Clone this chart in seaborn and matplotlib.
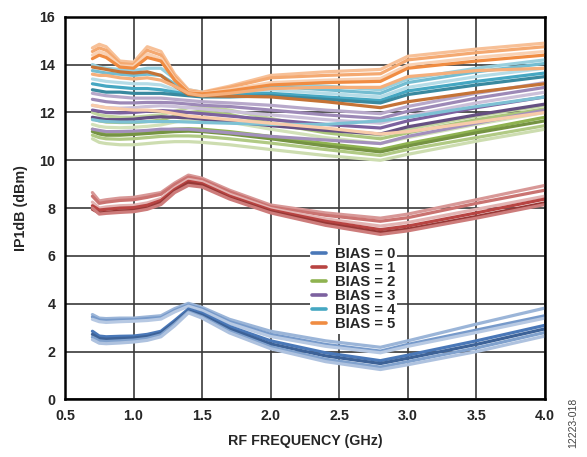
import matplotlib
matplotlib.use("Agg")
import matplotlib.pyplot as plt
from matplotlib.lines import Line2D
from matplotlib.colors import to_rgb
import seaborn as sns
import pandas as pd

# frequency points (GHz) shared by every sweep
FREQ_GHZ = [0.70, 0.75, 0.80, 0.90, 1.00, 1.10, 1.20, 1.30, 1.40, 1.50,
            1.70, 2.00, 2.40, 2.80, 3.00, 3.50, 4.00]

# IP1dB (dBm) sweeps, one list per trace
BIAS0 = [
    [3.55, 3.40, 3.38, 3.40, 3.40, 3.45, 3.50, 3.80, 4.02, 3.85, 3.35, 2.85, 2.45, 2.18, 2.45, 3.15, 3.82],
    [3.45, 3.32, 3.30, 3.32, 3.33, 3.38, 3.42, 3.72, 3.95, 3.78, 3.25, 2.72, 2.30, 2.02, 2.30, 2.90, 3.50],
    [3.35, 3.25, 3.22, 3.25, 3.27, 3.30, 3.36, 3.66, 3.90, 3.72, 3.18, 2.63, 2.22, 1.95, 2.22, 2.80, 3.40],
    [2.85, 2.65, 2.62, 2.64, 2.65, 2.72, 2.85, 3.30, 3.78, 3.60, 3.05, 2.45, 1.95, 1.62, 1.85, 2.45, 3.10],
    [2.72, 2.55, 2.52, 2.55, 2.57, 2.63, 2.78, 3.22, 3.70, 3.52, 2.95, 2.32, 1.82, 1.50, 1.72, 2.30, 2.95],
    [2.60, 2.45, 2.42, 2.45, 2.48, 2.55, 2.70, 3.15, 3.66, 3.45, 2.85, 2.20, 1.68, 1.35, 1.58, 2.15, 2.80],
    [2.50, 2.35, 2.33, 2.36, 2.40, 2.47, 2.62, 3.08, 3.62, 3.40, 2.78, 2.12, 1.58, 1.25, 1.45, 2.00, 2.65],
]
BIAS1 = [
    [8.65, 8.30, 8.35, 8.42, 8.45, 8.55, 8.65, 9.05, 9.38, 9.25, 8.75, 8.13, 7.80, 7.58, 7.75, 8.35, 8.95],
    [8.50, 8.20, 8.25, 8.32, 8.35, 8.45, 8.58, 8.98, 9.30, 9.18, 8.68, 8.05, 7.70, 7.45, 7.60, 8.20, 8.75],
    [8.25, 8.00, 8.05, 8.10, 8.12, 8.22, 8.40, 8.85, 9.20, 9.10, 8.58, 7.98, 7.55, 7.25, 7.40, 7.95, 8.50],
    [8.10, 7.92, 7.95, 8.00, 8.02, 8.12, 8.32, 8.78, 9.12, 9.02, 8.50, 7.92, 7.45, 7.10, 7.25, 7.80, 8.38],
    [7.95, 7.80, 7.82, 7.88, 7.90, 8.00, 8.22, 8.70, 9.05, 8.95, 8.42, 7.85, 7.35, 6.98, 7.12, 7.65, 8.22],
    [8.00, 7.75, 7.78, 7.82, 7.85, 7.95, 8.15, 8.65, 8.95, 8.88, 8.38, 7.80, 7.28, 6.90, 7.05, 7.58, 8.15],
]
BIAS2 = [
    [12.00, 11.90, 11.85, 11.80, 11.80, 11.85, 11.90, 12.05, 12.20, 12.25, 12.10, 11.75, 11.30, 11.05, 11.30, 11.85, 12.30],
    [11.75, 11.65, 11.60, 11.58, 11.58, 11.62, 11.68, 11.85, 12.00, 12.05, 11.92, 11.55, 11.15, 10.90, 11.15, 11.70, 12.15],
    [11.50, 11.42, 11.38, 11.36, 11.38, 11.42, 11.48, 11.60, 11.70, 11.72, 11.60, 11.30, 10.95, 10.70, 10.95, 11.50, 12.00],
    [11.30, 11.20, 11.15, 11.15, 11.18, 11.22, 11.26, 11.30, 11.32, 11.30, 11.20, 11.00, 10.70, 10.45, 10.70, 11.25, 11.80],
    [11.20, 11.10, 11.05, 11.05, 11.08, 11.12, 11.16, 11.20, 11.22, 11.20, 11.10, 10.90, 10.60, 10.35, 10.60, 11.15, 11.65],
    [11.05, 10.95, 10.90, 10.88, 10.90, 10.95, 11.00, 11.02, 11.02, 11.00, 10.90, 10.72, 10.45, 10.20, 10.45, 10.95, 11.45],
    [10.90, 10.75, 10.70, 10.65, 10.65, 10.70, 10.75, 10.78, 10.78, 10.75, 10.65, 10.45, 10.20, 10.00, 10.25, 10.80, 11.30],
]
BIAS3 = [
    [12.80, 12.75, 12.70, 12.65, 12.60, 12.60, 12.60, 12.55, 12.50, 12.45, 12.40, 12.30, 12.10, 11.95, 12.25, 12.80, 13.25],
    [12.55, 12.50, 12.45, 12.40, 12.40, 12.42, 12.42, 12.40, 12.35, 12.30, 12.25, 12.10, 11.90, 11.75, 12.05, 12.60, 13.05],
    [12.30, 12.25, 12.20, 12.18, 12.20, 12.25, 12.28, 12.25, 12.20, 12.15, 12.05, 11.90, 11.70, 11.55, 11.85, 12.40, 12.85],
    [12.10, 12.05, 12.00, 11.98, 12.00, 12.05, 12.08, 12.05, 12.00, 11.95, 11.85, 11.70, 11.50, 11.35, 11.65, 12.20, 12.65],
    [11.80, 11.75, 11.70, 11.70, 11.72, 11.78, 11.82, 11.80, 11.78, 11.72, 11.62, 11.45, 11.25, 11.10, 11.40, 11.90, 12.35],
    [11.30, 11.25, 11.20, 11.20, 11.22, 11.25, 11.30, 11.30, 11.30, 11.25, 11.15, 11.00, 10.85, 10.70, 11.00, 11.55, 12.10],
]
BIAS4 = [
    [14.00, 13.90, 13.85, 13.80, 13.75, 13.85, 13.85, 13.40, 12.95, 12.85, 12.95, 13.20, 13.10, 12.95, 13.40, 13.85, 14.20],
    [13.75, 13.70, 13.65, 13.60, 13.55, 13.60, 13.55, 13.20, 12.88, 12.80, 12.90, 13.10, 12.95, 12.80, 13.25, 13.70, 14.05],
    [13.40, 13.35, 13.30, 13.25, 13.20, 13.20, 13.15, 12.95, 12.80, 12.75, 12.80, 12.95, 12.80, 12.65, 13.05, 13.50, 13.85],
    [13.20, 13.15, 13.10, 13.05, 13.00, 13.00, 12.95, 12.85, 12.75, 12.70, 12.75, 12.80, 12.65, 12.50, 12.90, 13.30, 13.65],
    [12.95, 12.90, 12.85, 12.85, 12.80, 12.80, 12.80, 12.75, 12.70, 12.65, 12.65, 12.70, 12.55, 12.40, 12.75, 13.15, 13.50],
    [11.70, 11.65, 11.62, 11.60, 11.60, 11.62, 11.62, 11.62, 11.60, 11.58, 11.55, 11.50, 11.50, 11.65, 11.80, 12.25, 12.65],
]
BIAS5 = [
    [14.70, 14.85, 14.75, 14.15, 14.10, 14.75, 14.55, 13.60, 12.95, 12.85, 13.10, 13.55, 13.70, 13.80, 14.35, 14.65, 14.90],
    [14.55, 14.70, 14.60, 14.05, 14.00, 14.60, 14.40, 13.50, 12.90, 12.82, 13.05, 13.45, 13.55, 13.62, 14.20, 14.50, 14.75],
    [14.40, 14.55, 14.45, 13.95, 13.92, 14.45, 14.25, 13.40, 12.85, 12.80, 12.95, 13.25, 13.35, 13.42, 13.98, 14.30, 14.55],
    [14.25, 14.40, 14.30, 13.90, 13.85, 14.30, 14.15, 13.35, 12.82, 12.78, 12.90, 13.15, 13.25, 13.30, 13.85, 14.15, 14.40],
    [13.90, 13.85, 13.80, 13.70, 13.65, 13.70, 13.55, 13.10, 12.75, 12.70, 12.68, 12.65, 12.45, 12.20, 12.45, 12.85, 13.20],
    [13.60, 13.55, 13.55, 13.45, 13.40, 13.45, 13.35, 13.10, 12.80, 12.70, 12.80, 13.00, 13.05, 13.05, 13.50, 13.75, 13.85],
    [12.30, 12.25, 12.20, 12.15, 12.10, 12.10, 12.05, 11.95, 11.85, 11.80, 11.70, 11.55, 11.35, 11.10, 11.20, 11.60, 12.00],
]

BIAS_LEVELS = [0, 1, 2, 3, 4, 5]
SWEEPS = [BIAS0, BIAS1, BIAS2, BIAS3, BIAS4, BIAS5]

# colours / shades
BASE_COLORS = ["#4a78b8", "#b84442", "#8fb350", "#7c619f", "#45a7c2", "#f08c42"]
SHADE_CYCLE = [0.45, 0.25, 0.6, 0.0, -0.18, 0.3, 0.55]


def shade(color, amount):
    r, g, b = to_rgb(color)
    if amount >= 0:
        return (r + (1 - r) * amount, g + (1 - g) * amount, b + (1 - b) * amount)
    k = 1 + amount
    return (r * k, g * k, b * k)


rows = []
palette = {}
for bias, sweeps, base in zip(BIAS_LEVELS, SWEEPS, BASE_COLORS):
    for i, vals in enumerate(sweeps):
        cid = f"b{bias}_{i}"
        palette[cid] = shade(base, SHADE_CYCLE[i % len(SHADE_CYCLE)])
        for f, v in zip(FREQ_GHZ, vals):
            rows.append({"freq": f, "ip1db": v, "curve": cid})
df = pd.DataFrame(rows)

sns.set_style("white")
plt.rcParams["font.family"] = ["Liberation Sans", "DejaVu Sans"]
plt.rcParams["font.weight"] = "bold"

fig = plt.figure(figsize=(5.87, 4.57), dpi=100)
ax = fig.add_axes([0.1107, 0.126, 0.8177, 0.8372])

sns.lineplot(data=df, x="freq", y="ip1db", hue="curve", palette=palette,
             estimator=None, sort=False, legend=False, lw=2.3, ax=ax)

ax.set_xlim(0.5, 4.0)
ax.set_ylim(0, 16)
ax.set_xticks([0.5, 1.0, 1.5, 2.0, 2.5, 3.0, 3.5, 4.0])
ax.set_xticklabels(["0.5", "1.0", "1.5", "2.0", "2.5", "3.0", "3.5", "4.0"])
ax.set_yticks(range(0, 17, 2))
ax.grid(True, color="#3a3a3a", lw=1.2)
ax.set_axisbelow(True)
for sp in ax.spines.values():
    sp.set_color("black")
    sp.set_linewidth(1.8)
ax.tick_params(length=0, labelsize=10.3, pad=7)
for lab in ax.get_xticklabels() + ax.get_yticklabels():
    lab.set_fontweight("bold")

ax.set_xlabel("RF FREQUENCY (GHz)", fontsize=10.3, fontweight="bold", labelpad=8)
ax.set_ylabel("IP1dB (dBm)", fontsize=10.3, fontweight="bold", labelpad=8)

handles = [Line2D([], [], color=c, lw=2.6) for c in BASE_COLORS]
labels = [f"BIAS = {b}" for b in BIAS_LEVELS]
leg = ax.legend(handles, labels, loc="upper left", bbox_to_anchor=(0.51, 0.403),
                frameon=True, fancybox=False, framealpha=1, facecolor="white",
                edgecolor="none", fontsize=10.6, handlelength=0.95,
                handletextpad=0.6, labelspacing=0.0, borderpad=0.15,
                borderaxespad=0)
for t in leg.get_texts():
    t.set_fontweight("bold")

fig.text(0.977, 0.075, "12223-018", rotation=90, fontsize=7.5, color="#444444",
         fontweight="normal", ha="center", va="center")

fig.savefig("out.png", dpi=100)
